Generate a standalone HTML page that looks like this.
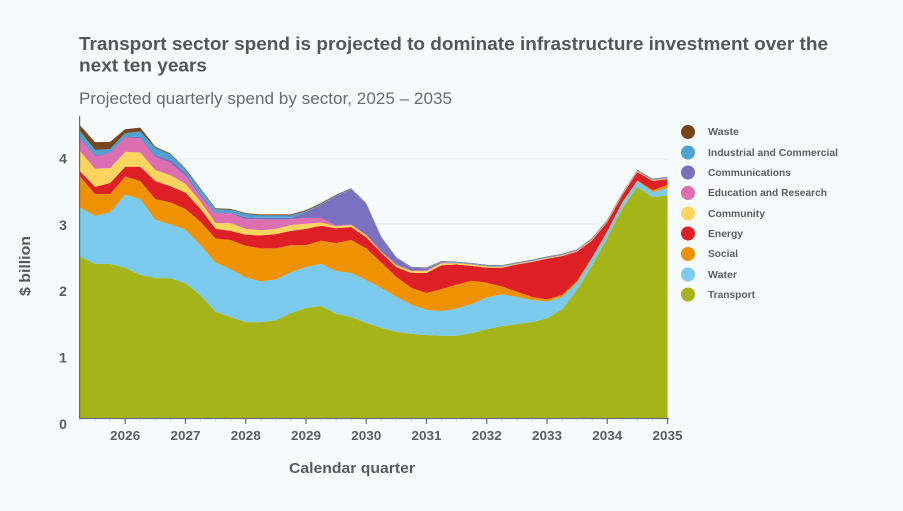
<!DOCTYPE html>
<html lang="en">
<head>
<meta charset="utf-8">
<title>Transport sector spend</title>
<style>
html,body{margin:0;padding:0;background:#f6fbfe;}
svg{display:block;font-family:"Liberation Sans",sans-serif;filter:blur(0.3px);}
</style>
</head>
<body>
<svg id="chart" width="903" height="511" viewBox="0 0 903 511" xmlns="http://www.w3.org/2000/svg">
  <rect x="0" y="0" width="903" height="511" fill="#f6fbfe"/>
  <text x="79" y="50" font-size="18" font-weight="700" fill="#55565a" textLength="749" lengthAdjust="spacingAndGlyphs">Transport sector spend is projected to dominate infrastructure investment over the</text>
  <text x="79" y="71.5" font-size="18" font-weight="700" fill="#55565a" textLength="128" lengthAdjust="spacingAndGlyphs">next ten years</text>
  <text x="79" y="104" font-size="17" fill="#6a6b6e" textLength="373" lengthAdjust="spacingAndGlyphs">Projected quarterly spend by sector, 2025 – 2035</text>
  <g id="grid"></g>
  <g id="areas"></g>
  <g id="axes"></g>
  <text transform="translate(30,266) rotate(-90)" text-anchor="middle" font-size="14.5" font-weight="700" fill="#58595b" textLength="60" lengthAdjust="spacingAndGlyphs">$ billion</text>
  <text x="352" y="473" text-anchor="middle" font-size="14.5" font-weight="700" fill="#58595b" textLength="126" lengthAdjust="spacingAndGlyphs">Calendar quarter</text>
  <g font-size="10" font-weight="700" fill="#5c5d60">
    <g><circle cx="688" cy="132" r="7" fill="#75471a"/><text x="708" y="135" textLength="31" lengthAdjust="spacingAndGlyphs">Waste</text></g>
    <g><circle cx="688" cy="152.5" r="7" fill="#4da3cf"/><text x="708" y="156" textLength="130" lengthAdjust="spacingAndGlyphs">Industrial and Commercial</text></g>
    <g><circle cx="688" cy="172.5" r="7" fill="#7b6fbf"/><text x="708" y="176" textLength="83" lengthAdjust="spacingAndGlyphs">Communications</text></g>
    <g><circle cx="688" cy="193" r="7" fill="#dc6fb0"/><text x="708" y="196" textLength="119" lengthAdjust="spacingAndGlyphs">Education and Research</text></g>
    <g><circle cx="688" cy="213.5" r="7" fill="#fbd55e"/><text x="708" y="217" textLength="57" lengthAdjust="spacingAndGlyphs">Community</text></g>
    <g><circle cx="688" cy="233.5" r="7" fill="#dd1f26"/><text x="708" y="237" textLength="35" lengthAdjust="spacingAndGlyphs">Energy</text></g>
    <g><circle cx="688" cy="254" r="7" fill="#ee9102"/><text x="708" y="257" textLength="30" lengthAdjust="spacingAndGlyphs">Social</text></g>
    <g><circle cx="688" cy="274.5" r="7" fill="#7ccbee"/><text x="708" y="278" textLength="29" lengthAdjust="spacingAndGlyphs">Water</text></g>
    <g><circle cx="688" cy="294.5" r="7" fill="#a4b419"/><text x="708" y="298" textLength="47" lengthAdjust="spacingAndGlyphs">Transport</text></g>
  </g>
</svg>
<script>
const quarters = [2025.25,2025.5,2025.75,2026,2026.25,2026.5,2026.75,2027,2027.25,2027.5,2027.75,2028,2028.25,2028.5,2028.75,2029,2029.25,2029.5,2029.75,2030,2030.25,2030.5,2030.75,2031,2031.25,2031.5,2031.75,2032,2032.25,2032.5,2032.75,2033,2033.25,2033.5,2033.75,2034,2034.25,2034.5,2034.75,2035];
const yearTicks = [2026,2027,2028,2029,2030,2031,2032,2033,2034,2035];
const valueTicks = [0,1,2,3,4];
const gridValues = [3,4];
const transport = [2.49,2.38,2.38,2.32,2.21,2.16,2.16,2.08,1.90,1.64,1.56,1.48,1.48,1.51,1.62,1.70,1.73,1.61,1.56,1.47,1.39,1.33,1.30,1.28,1.27,1.27,1.31,1.37,1.42,1.45,1.48,1.54,1.68,1.98,2.36,2.78,3.24,3.57,3.41,3.44];
const water = [0.76,0.74,0.80,1.13,1.17,0.90,0.83,0.83,0.77,0.76,0.74,0.69,0.63,0.63,0.63,0.63,0.65,0.66,0.68,0.66,0.62,0.54,0.45,0.39,0.38,0.42,0.45,0.49,0.49,0.42,0.34,0.26,0.19,0.11,0.11,0.09,0.08,0.09,0.08,0.11];
const social = [0.48,0.34,0.28,0.28,0.28,0.32,0.34,0.32,0.36,0.37,0.45,0.49,0.51,0.48,0.42,0.34,0.36,0.43,0.51,0.49,0.39,0.31,0.26,0.26,0.34,0.37,0.36,0.23,0.12,0.08,0.05,0.03,0.03,0.03,0.015,0.015,0.015,0.01,0.03,0.05];
const energy = [0.08,0.11,0.17,0.15,0.22,0.28,0.25,0.25,0.20,0.15,0.14,0.17,0.20,0.22,0.22,0.25,0.23,0.23,0.20,0.17,0.15,0.15,0.23,0.31,0.37,0.31,0.23,0.23,0.29,0.42,0.54,0.63,0.60,0.45,0.26,0.14,0.11,0.13,0.14,0.09];
const community = [0.31,0.28,0.23,0.23,0.22,0.17,0.17,0.14,0.11,0.09,0.12,0.09,0.08,0.08,0.09,0.08,0.05,0.03,0.03,0.03,0.015,0.03,0.03,0.03,0.03,0.02,0.02,0.02,0.015,0.01,0.01,0.01,0.01,0.01,0.01,0.01,0.01,0.01,0.01,0.01];
const education = [0.19,0.19,0.23,0.22,0.22,0.20,0.19,0.12,0.08,0.15,0.15,0.15,0.17,0.14,0.09,0.09,0.07,0.015,0.01,0.01,0.01,0.01,0.01,0.01,0.01,0.005,0.005,0.005,0.005,0.005,0.005,0.005,0.005,0.005,0.005,0.005,0.005,0.005,0.005,0.005];
const communications = [0.03,0.02,0.015,0.02,0.02,0.03,0.05,0.05,0.03,0.015,0.015,0.03,0.02,0.03,0.02,0.09,0.20,0.45,0.54,0.47,0.21,0.10,0.04,0.03,0.01,0.005,0.005,0.005,0.005,0.005,0.005,0.005,0.005,0.005,0.005,0.005,0.005,0.005,0.005,0.005];
const industrial = [0.09,0.08,0.05,0.05,0.085,0.11,0.08,0.05,0.08,0.05,0.04,0.05,0.04,0.04,0.04,0.015,0.015,0.01,0.01,0.01,0.008,0.008,0.008,0.008,0.008,0.008,0.008,0.008,0.008,0.008,0.008,0.008,0.008,0.008,0.008,0.008,0.008,0.008,0.008,0.008];
const waste = [0.09,0.12,0.11,0.06,0.06,0.02,0.015,0.015,0.015,0.015,0.015,0.015,0.015,0.015,0.015,0.015,0.015,0.012,0.008,0.008,0.006,0.006,0.006,0.006,0.006,0.006,0.006,0.006,0.006,0.006,0.006,0.006,0.006,0.006,0.006,0.006,0.006,0.006,0.006,0.006];
const seriesNames = ['transport','water','social','energy','community','education','communications','industrial','waste'];
const seriesColors = ['#a4b419','#7ccbee','#ee9102','#dd1f26','#fbd55e','#dc6fb0','#7b6fbf','#4da3cf','#75471a'];
const seriesValues = [transport,water,social,energy,community,education,communications,industrial,waste];

const NS = 'http://www.w3.org/2000/svg';
const xScale = t => 80 + (t - 2025.25) * 60.26;
const yScale = v => 418 - v * 64.75;
const labelY = v => 429 - v * 66.4;
function mk(tag, attrs, parent) {
  const el = document.createElementNS(NS, tag);
  for (const k in attrs) el.setAttribute(k, attrs[k]);
  parent.appendChild(el);
  return el;
}
const gridG = document.getElementById('grid');
const areasG = document.getElementById('areas');
const axesG = document.getElementById('axes');

gridValues.forEach(v => {
  const l = mk('line', {x1: 80, x2: 668, y1: yScale(v), y2: yScale(v), stroke: '#e9eef1', 'stroke-width': 1.5}, gridG);
  
  
});

const baseline = quarters.map(() => 0);
seriesValues.forEach((vals, s) => {
  const top = baseline.map((b, i) => b + vals[i]);
  let d = '';
  quarters.forEach((q, i) => { d += (i ? 'L' : 'M') + xScale(q).toFixed(2) + ' ' + yScale(top[i]).toFixed(2); });
  for (let i = quarters.length - 1; i >= 0; i--) { d += 'L' + xScale(quarters[i]).toFixed(2) + ' ' + yScale(baseline[i]).toFixed(2); }
  d += 'Z';
  const p = mk('path', {d: d, fill: seriesColors[s]}, areasG);
  
  
  top.forEach((t, i) => { baseline[i] = t; });
});

quarters.forEach(q => {
  const t = mk('line', {x1: xScale(q), x2: xScale(q), y1: 418, y2: 422, stroke: '#dfe3e3', 'stroke-width': 1}, axesG);
  
  
});
yearTicks.forEach(y => {
  const t = mk('line', {x1: xScale(y), x2: xScale(y), y1: 418, y2: 424, stroke: '#6b6c63', 'stroke-width': 1.2}, axesG);
  
  
  const lab = mk('text', {x: xScale(y), y: 440, 'text-anchor': 'middle', 'font-size': 12.5, 'font-weight': 700, fill: '#5c5d60', textLength: 30, lengthAdjust: 'spacingAndGlyphs'}, axesG);
  lab.textContent = String(y);
  
  
});
valueTicks.forEach(v => {
  const lab = mk('text', {x: 63, y: labelY(v), 'text-anchor': 'middle', 'font-size': 14, 'font-weight': 700, fill: '#5c5d60'}, axesG);
  lab.textContent = String(v);
  
  
});
const yAxis = mk('line', {x1: 79.6, x2: 79.6, y1: 116, y2: 419, stroke: '#6b6c63', 'stroke-width': 1.2}, axesG);


const xAxis = mk('line', {x1: 79, x2: 669, y1: 418.5, y2: 418.5, stroke: '#6b6c63', 'stroke-width': 1.2}, axesG);


</script>
</body>
</html>
